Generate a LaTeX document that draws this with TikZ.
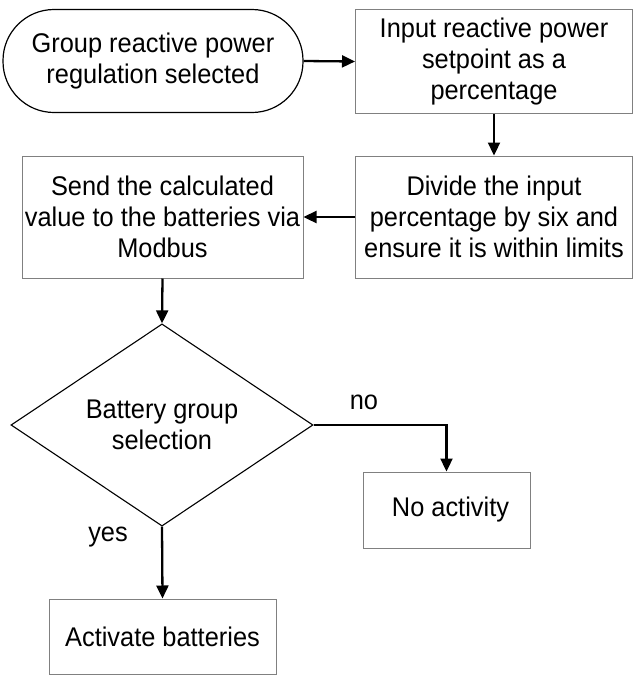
\documentclass[tikz,border=0pt]{standalone}
\usepackage{fontspec}
\setmainfont{Liberation Sans}[FakeStretch=0.94]
\usetikzlibrary{arrows.meta,shapes.geometric}
\definecolor{flInk}{HTML}{000000}
\definecolor{flFrame}{HTML}{808080}
\tikzset{
  fl text/.style={font=\fontsize{27}{31}\selectfont, text=flInk, align=center},
  fl terminal/.style={fl text, draw=flInk, line width=1.2pt,
    rounded corners=51pt, minimum width=300pt, minimum height=103pt},
  fl box/.style={fl text, draw=flFrame, line width=1pt, inner sep=0pt},
  fl decision/.style={fl text, diamond, draw=flInk, line width=1.1pt,
    inner sep=0pt, minimum width=302pt, minimum height=160pt},
  fl arrow/.style={draw=flInk, line width=2.3pt,
    -{Triangle[length=13pt,width=12pt]}},
  fl label/.style={font=\fontsize{27}{31}\selectfont, text=flInk}
}
\begin{document}
\begin{tikzpicture}[x=1pt,y=-1pt]
  \path[use as bounding box, fill=white] (0,0) rectangle (633,675);

  \node[fl terminal] (start) at (153,61) {Group reactive power\\regulation selected};
  \node[fl box, minimum width=277pt, minimum height=104pt] (input) at (494,61.5)
    {Input reactive power\\setpoint as a\\percentage};
  \node[fl box, minimum width=277pt, minimum height=122pt] (divide) at (494,217)
    {Divide the input\\percentage by six and\\ensure it is within limits};
  \node[fl box, minimum width=281pt, minimum height=122pt] (send) at (162.5,217)
    {Send the calculated\\value to the batteries via\\Modbus};
  \node[fl decision] (select) at (162,425) {Battery group\\selection};
  \node[fl box, minimum width=167pt, minimum height=76pt] (idle) at (446.5,510)
    {\hspace{8pt}No activity};
  \node[fl box, minimum width=227pt, minimum height=75pt] (activate) at (162.5,636.5)
    {Activate batteries};

  \node[fl label] (no) at (364,402) {no};
  \node[fl label] (yes) at (108,537) {yes};

  \draw[fl arrow] (start.east) -- (input.west);
  \draw[fl arrow] (input.south) -- (divide.north);
  \draw[fl arrow] (divide.west) -- (send.east);
  \draw[fl arrow] (send.south) -- (select.north);
  \draw[fl arrow] (select.east) -| (idle.north);
  \draw[fl arrow] (select.south) -- (activate.north);
\end{tikzpicture}
\end{document}
